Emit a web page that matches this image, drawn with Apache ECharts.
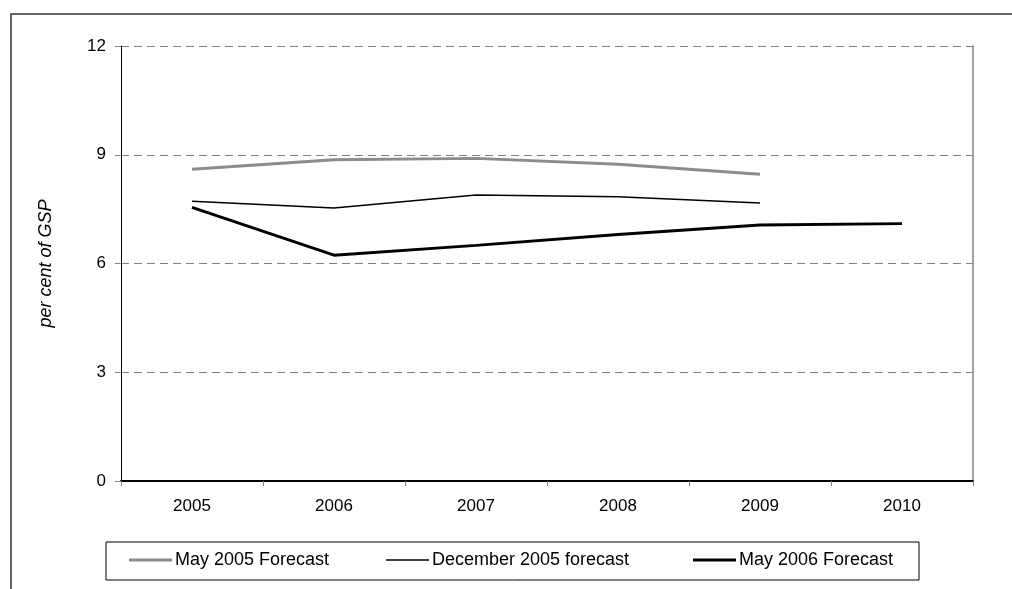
<!DOCTYPE html>
<html>
<head>
<meta charset="utf-8">
<script src="https://cdn.jsdelivr.net/npm/echarts@6/dist/echarts.min.js"></script>
<style>
  html, body { margin: 0; padding: 0; background: #ffffff; }
  #chart { width: 1012px; height: 589px; }
</style>
</head>
<body>
<div id="chart"></div>
<script>
// Forecast years on the horizontal axis
const years = ['2005', '2006', '2007', '2008', '2009', '2010'];

// Forecast values, per cent of GSP
const may2005 = [8.6, 8.86, 8.9, 8.74, 8.46, null];
const dec2005 = [7.72, 7.53, 7.89, 7.84, 7.67, null];
const may2006 = [7.55, 6.23, 6.5, 6.8, 7.06, 7.1];

// Vertical axis ticks
const yTicks = [0, 3, 6, 9, 12];

const seriesNames = ['May 2005 Forecast', 'December 2005 forecast', 'May 2006 Forecast'];

const chart = echarts.init(document.getElementById('chart'), null, { renderer: 'canvas' });

const font = 'Liberation Sans, Arial, sans-serif';

function legendFor(name, left, color, h) {
  return {
    data: [name],
    left: left,
    top: 551,
    icon: 'rect',
    itemWidth: 43,
    itemHeight: h,
    itemGap: 0,
    padding: 0,
    textStyle: { fontFamily: font, fontSize: 18, color: '#000', padding: [0, 0, 0, -2] },
    itemStyle: { color: color, borderWidth: 0 },
    selectedMode: false
  };
}

chart.setOption({
  animation: false,
  backgroundColor: '#ffffff',
  graphic: [
    {
      type: 'rect',
      shape: { x: 11, y: 14, width: 1020, height: 600 },
      style: { fill: 'none', stroke: '#333333', lineWidth: 1.5 },
      silent: true,
      z: 0
    },
    {
      type: 'rect',
      shape: { x: 106, y: 542, width: 813, height: 38 },
      style: { fill: 'none', stroke: '#000000', lineWidth: 1 },
      silent: true,
      z: 0
    }
  ],
  grid: { left: 121, right: 1012 - 973, top: 46, bottom: 589 - 481, containLabel: false },
  legend: [
    legendFor(seriesNames[0], 129, '#8c8c8c', 3),
    legendFor(seriesNames[1], 386, '#000000', 1.5),
    legendFor(seriesNames[2], 693, '#000000', 3)
  ],
  xAxis: {
    type: 'category',
    data: years,
    boundaryGap: true,
    axisLine: { lineStyle: { color: '#000', width: 2 } },
    axisTick: { show: true, length: 5, lineStyle: { color: '#808080', width: 1 } },
    axisLabel: { fontFamily: font, fontSize: 17, color: '#000', margin: 17 },
    splitLine: { show: false }
  },
  yAxis: [
    {
      type: 'value',
      min: yTicks[0],
      max: yTicks[yTicks.length - 1],
      interval: yTicks[1] - yTicks[0],
      name: 'per cent of GSP',
      nameLocation: 'middle',
      nameGap: 66,
      nameTextStyle: { fontFamily: font, fontSize: 18, fontStyle: 'italic', color: '#000' },
      axisLine: { show: true, lineStyle: { color: '#000', width: 1 } },
      axisTick: { show: true, length: 6, lineStyle: { color: '#808080' } },
      axisLabel: { fontFamily: font, fontSize: 17, color: '#000', margin: 15 },
      splitLine: { show: true, lineStyle: { color: '#808080', type: [8, 5], width: 1 } }
    },
    {
      type: 'value',
      position: 'right',
      min: yTicks[0],
      max: yTicks[yTicks.length - 1],
      interval: yTicks[1] - yTicks[0],
      axisLine: { show: true, lineStyle: { color: '#808080', width: 1.5 } },
      axisTick: { show: false },
      axisLabel: { show: false },
      splitLine: { show: false }
    }
  ],
  series: [
    {
      name: seriesNames[0],
      type: 'line',
      data: may2005,
      showSymbol: false,
      symbol: 'none',
      lineStyle: { color: '#8c8c8c', width: 3 },
      itemStyle: { color: '#8c8c8c' },
      z: 3
    },
    {
      name: seriesNames[1],
      type: 'line',
      data: dec2005,
      showSymbol: false,
      symbol: 'none',
      lineStyle: { color: '#000000', width: 1.5 },
      itemStyle: { color: '#000000' },
      z: 3
    },
    {
      name: seriesNames[2],
      type: 'line',
      data: may2006,
      showSymbol: false,
      symbol: 'none',
      lineStyle: { color: '#000000', width: 3 },
      itemStyle: { color: '#000000' },
      z: 3
    }
  ]
});
</script>
</body>
</html>
